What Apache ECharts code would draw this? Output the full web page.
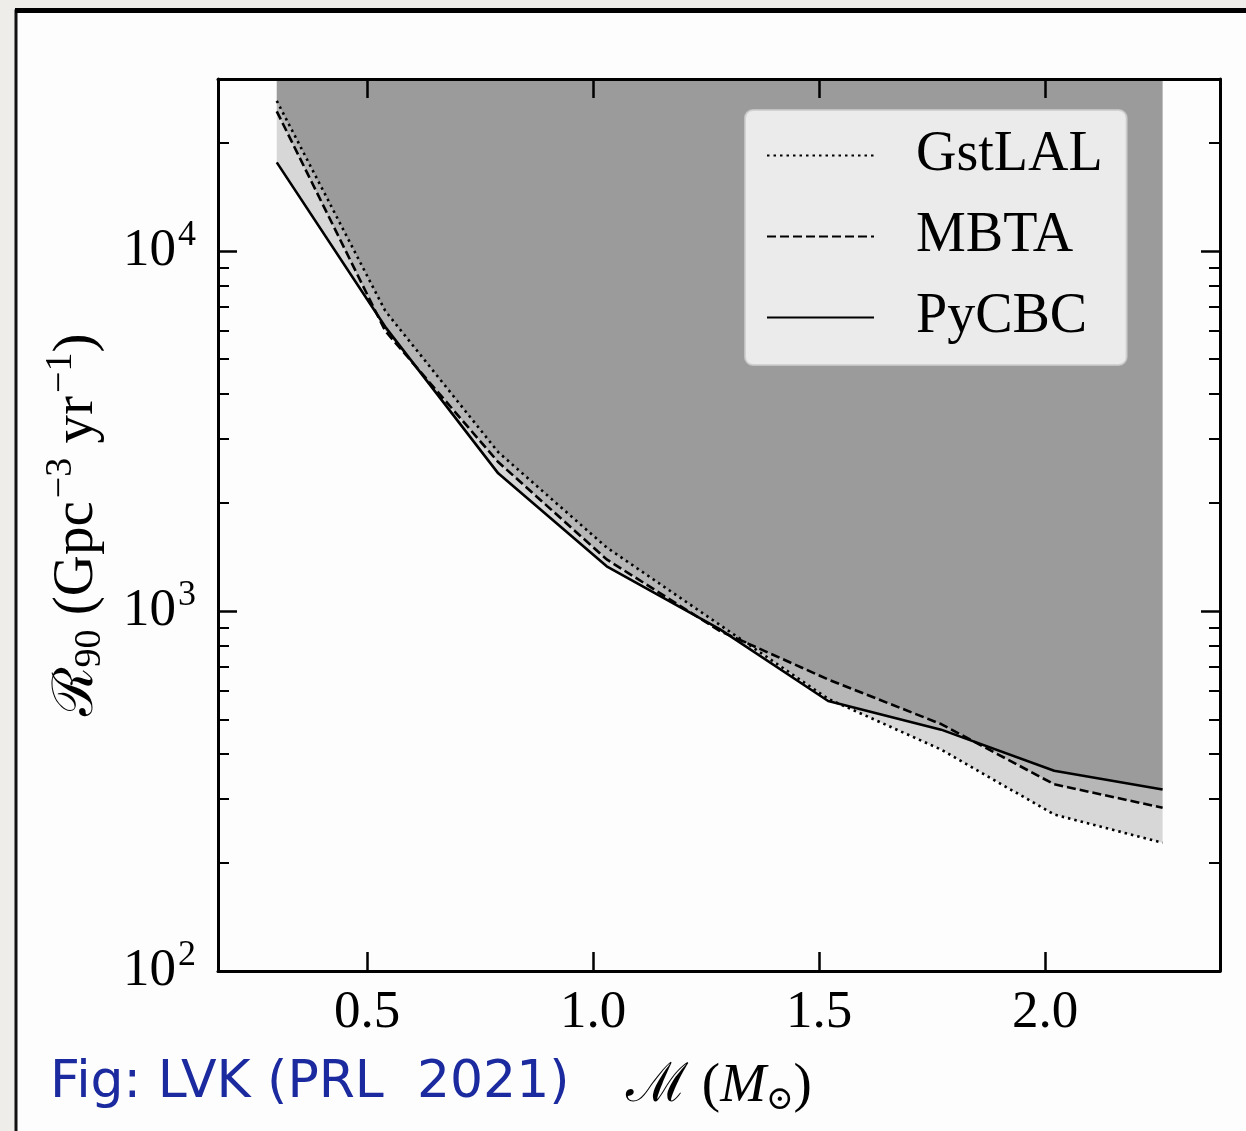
<!DOCTYPE html>
<html>
<head>
<meta charset="utf-8">
<script src="https://cdn.jsdelivr.net/npm/echarts@6/dist/echarts.min.js"></script>
<style>
  html, body { margin: 0; padding: 0; background: #efede9; }
  #chart { width: 1246px; height: 1131px; }
</style>
</head>
<body>
<div id="chart"></div>
<script>
// Chirp mass bins (solar masses)
const chirpMass = [0.30, 0.54, 0.79, 1.03, 1.28, 1.52, 1.77, 2.02, 2.26];

// 90% confidence rate upper limits per pipeline (Gpc^-3 yr^-1)
const gstlalRate = [26100, 6810, 2760, 1500, 915, 570, 412, 272, 227];
const mbtaRate   = [24400, 5990, 2590, 1390, 880, 645, 485, 330, 284];
const pycbcRate  = [17600, 6150, 2410, 1330, 890, 562, 468, 360, 319];

// Axis ticks
const xTickValues  = [0.5, 1.0, 1.5, 2.0];
const yMajorTicks  = [100, 1000, 10000];
const yMinorTicks  = [200, 300, 400, 500, 600, 700, 800, 900,
                      2000, 3000, 4000, 5000, 6000, 7000, 8000, 9000, 20000];

const SERIF = "'Liberation Serif', 'DejaVu Serif', serif";
const MATH  = "'DejaVu Serif', 'Liberation Serif', serif";

const pipelines = [
  { name: 'GstLAL', values: gstlalRate, dash: [2.5, 4] },
  { name: 'MBTA',   values: mbtaRate,   dash: [9, 4] },
  { name: 'PyCBC',  values: pycbcRate,  dash: 'solid' }
];

function toPoints(values) {
  return chirpMass.map((m, i) => [m, values[i]]);
}

const X_MIN = 0.17, X_MAX = 2.387;
const Y_MIN = 100, Y_MAX = 30000;

const spine = { show: true, lineStyle: { color: '#000', width: 3 } };

function xAxisDef(pos, withLabels) {
  return {
    type: 'value', position: pos, min: X_MIN, max: X_MAX,
    axisLine: spine,
    splitLine: { show: false },
    axisTick: { show: true, inside: true, length: 19, customValues: xTickValues,
                lineStyle: { color: '#000', width: 2.5 } },
    axisLabel: withLabels ? {
      show: true, customValues: xTickValues, margin: 16,
      formatter: v => v.toFixed(1),
      fontFamily: SERIF, fontSize: 53, color: '#000'
    } : { show: false }
  };
}

function yAxisDef(pos, minor, withLabels) {
  const def = {
    type: 'log', logBase: 10, position: pos, min: Y_MIN, max: Y_MAX,
    axisLine: minor ? { show: false } : spine,
    splitLine: { show: false },
    minorTick: { show: false },
    axisTick: { show: true, inside: true, length: minor ? 11 : 19,
                customValues: minor ? yMinorTicks : yMajorTicks,
                lineStyle: { color: '#000', width: minor ? 2 : 2.5 } },
    axisLabel: { show: false }
  };
  if (withLabels) {
    def.axisLabel = {
      show: true, customValues: yMajorTicks, margin: 22,
      formatter: v => '{b|10}{e|' + Math.round(Math.log10(v)) + '}',
      rich: {
        b: { fontFamily: SERIF, fontSize: 53, lineHeight: 53, color: '#000', verticalAlign: 'middle' },
        e: { fontFamily: SERIF, fontSize: 36, lineHeight: 36, color: '#000', verticalAlign: 'middle',
             padding: [0, 0, 30, 2] }
      }
    };
    def.name = '{r|ℛ}{s|90}{m| (Gpc}{p|−3}{m| yr}{p|−1}{m|)}';
    def.nameLocation = 'middle';
    def.nameRotate = 90;
    def.nameGap = 112;
    def.nameTextStyle = {
      rich: {
        r: { fontFamily: MATH, fontSize: 56, lineHeight: 56, color: '#000', verticalAlign: 'middle' },
        m: { fontFamily: SERIF, fontSize: 57, lineHeight: 57, color: '#000', verticalAlign: 'middle' },
        s: { fontFamily: SERIF, fontSize: 38, lineHeight: 38, color: '#000', verticalAlign: 'middle',
             padding: [26, 0, 0, 0] },
        p: { fontFamily: SERIF, fontSize: 38, lineHeight: 38, color: '#000', verticalAlign: 'middle',
             padding: [0, 0, 32, 3] }
      }
    };
  }
  return def;
}

const xMain = xAxisDef('bottom', true);
xMain.name = '{c|ℳ}{m| (}{i|M}{s|⊙}{m|)}';
xMain.nameLocation = 'middle';
xMain.nameGap = 88;
xMain.nameTextStyle = {
  rich: {
    c: { fontFamily: MATH, fontSize: 54, lineHeight: 54, color: '#000', verticalAlign: 'middle' },
    m: { fontFamily: SERIF, fontSize: 55, lineHeight: 55, color: '#000', verticalAlign: 'middle' },
    i: { fontFamily: SERIF, fontStyle: 'italic', fontSize: 55, lineHeight: 55, color: '#000', verticalAlign: 'middle' },
    s: { fontFamily: MATH, fontSize: 33, lineHeight: 33, color: '#000', verticalAlign: 'middle',
         padding: [28, 0, 0, 0] }
  }
};

const areaSeries = pipelines.map(p => ({
  name: p.name + ' region',
  type: 'line',
  data: toPoints(p.values),
  symbol: 'none',
  silent: true,
  z: 1,
  lineStyle: { width: 0, opacity: 0 },
  areaStyle: { origin: 'end', color: 'rgba(0,0,0,0.15)', opacity: 1 }
}));

const lineSeries = pipelines.map(p => ({
  name: p.name,
  type: 'line',
  data: toPoints(p.values),
  symbol: 'none',
  z: 3,
  lineStyle: { color: '#000', width: 2.6, type: p.dash, cap: 'butt' },
  itemStyle: { color: '#000' }
}));

const chart = echarts.init(document.getElementById('chart'), null, { renderer: 'canvas' });
chart.setOption({
  animation: false,
  backgroundColor: '#efede9',
  grid: { left: 218, top: 79, width: 1002, height: 892, containLabel: false },
  xAxis: [xMain, xAxisDef('top', false)],
  yAxis: [
    yAxisDef('left', false, true),
    yAxisDef('left', true, false),
    yAxisDef('right', false, false),
    yAxisDef('right', true, false)
  ],
  legend: {
    data: pipelines.map(p => p.name),
    orient: 'vertical',
    left: 745, top: 110,
    itemWidth: 107, itemHeight: 20, itemGap: 24,
    padding: [17, 24, 19, 21],
    backgroundColor: 'rgba(255,255,255,0.8)',
    borderColor: 'rgba(204,204,204,0.8)',
    borderWidth: 2,
    borderRadius: 8,
    selectedMode: false,
    itemStyle: { opacity: 0 },
    textStyle: { fontFamily: SERIF, fontSize: 56, lineHeight: 57, color: '#000', padding: [0, 0, 0, 37] }
  },
  graphic: [
    { type: 'rect', z: -10, silent: true,
      shape: { x: 16, y: 11, width: 1300, height: 1200 },
      style: { fill: '#fdfdfd', stroke: '#111', lineWidth: 3 } },
    { type: 'rect', z: -9, silent: true,
      shape: { x: 15, y: 8, width: 1300, height: 5 },
      style: { fill: '#000' } },
    { type: 'text', left: 50, top: 1057, silent: true,
      style: { text: 'Fig: LVK (PRL  2021)', fill: '#1b2a9e',
               font: '52px "DejaVu Sans", "Noto Sans", sans-serif' } }
  ],
  series: [...areaSeries, ...lineSeries]
});
</script>
</body>
</html>
